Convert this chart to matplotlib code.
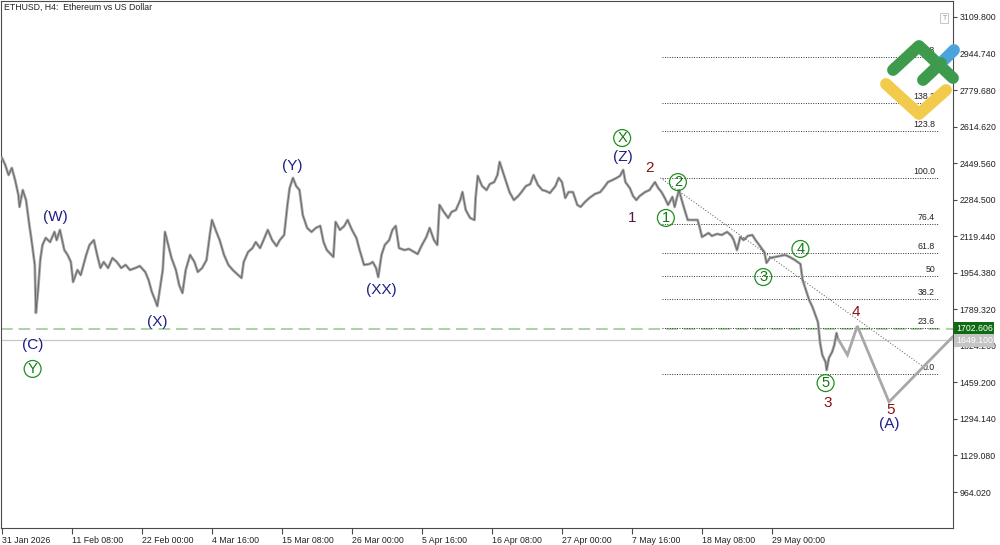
import matplotlib.pyplot as plt

# ETHUSD H4 - price path
# x = bar number counted from 31 Jan 2026 00:00 (6 bars a day), y = price
bar_idx = [0, 3, 6, 9, 12, 15, 16, 19, 22, 25, 27, 30, 31, 33, 35, 37, 40, 44, 48, 50,
           53, 57, 60, 63, 65, 69, 72, 77, 80, 84, 87, 90, 93, 97, 101, 105, 109, 113, 117, 122,
           126, 131, 134, 137, 140, 142, 144, 147, 149, 152, 155, 159, 162, 165, 168, 172, 176, 179, 183, 187,
           190, 192, 196, 199, 203, 207, 211, 216, 219, 221, 225, 229, 232, 236, 240, 243, 247, 251, 254, 258,
           261, 263, 266, 269, 272, 275, 279, 283, 287, 291, 294, 297, 303, 305, 309, 313, 316, 320, 324, 327,
           331, 336, 339, 342, 344, 347, 350, 354, 357, 360, 363, 368, 372, 377, 380, 384, 388, 391, 395, 398,
           400, 404, 408, 411, 415, 419, 421, 424, 428, 432, 433, 435, 439, 443, 446, 450, 453, 455, 458, 461,
           464, 468, 472, 475, 479, 483, 486, 490, 494, 497, 501, 506, 509, 512, 515, 518, 522, 526, 529, 533,
           537, 542, 547, 550, 554, 558, 562, 565, 568, 570, 574, 577, 580, 583, 588, 592, 597, 600, 603, 606,
           609, 613, 615, 617, 619, 622, 625, 627, 631, 636, 638, 640, 643, 646, 649, 654, 658, 663, 667, 669,
           672, 675, 678, 682, 686, 689, 693, 697, 699, 702, 707, 711, 716, 720, 725, 730, 732, 735, 738, 741,
           743, 746, 748, 750, 753, 754, 756, 759, 761, 763, 764]
price = [2473, 2441, 2396, 2428, 2373, 2306, 2252, 2328, 2283, 2170, 2102, 1990, 1773, 1877, 2012, 2080, 2112, 2093, 2139, 2102,
         2148, 2057, 2035, 2003, 1913, 1967, 1944, 2035, 2080, 2102, 2035, 1976, 2003, 1976, 2021, 2003, 1976, 1990, 1967, 1976,
         1985, 1958, 1922, 1868, 1831, 1804, 1868, 1967, 2139, 2080, 2021, 1967, 1899, 1863, 1967, 2035, 2003, 1958, 1976, 2012,
         2125, 2193, 2139, 2102, 2035, 1990, 1967, 1944, 1931, 2003, 2048, 2066, 2093, 2066, 2112, 2148, 2102, 2075, 2102, 2125,
         2261, 2337, 2383, 2346, 2328, 2215, 2157, 2139, 2157, 2166, 2093, 2057, 2026, 2184, 2148, 2166, 2193, 2148, 2112, 2057,
         1990, 1994, 2003, 1976, 1935, 2035, 2080, 2102, 2148, 2166, 2066, 2057, 2062, 2048, 2039, 2080, 2116, 2157, 2102, 2080,
         2261, 2229, 2202, 2229, 2238, 2283, 2319, 2238, 2202, 2193, 2292, 2392, 2346, 2328, 2355, 2364, 2396, 2455, 2410, 2364,
         2319, 2283, 2301, 2319, 2346, 2355, 2396, 2351, 2328, 2324, 2315, 2346, 2383, 2364, 2292, 2319, 2319, 2261, 2252, 2274,
         2292, 2310, 2319, 2337, 2364, 2373, 2383, 2392, 2419, 2364, 2337, 2301, 2283, 2301, 2319, 2328, 2364, 2337, 2319, 2292,
         2261, 2297, 2252, 2292, 2328, 2274, 2224, 2193, 2193, 2193, 2157, 2116, 2125, 2134, 2121, 2130, 2125, 2139, 2121, 2102,
         2057, 2116, 2102, 2121, 2125, 2102, 2075, 2048, 1999, 2021, 2026, 2030, 2035, 2026, 2012, 1994, 1922, 1877, 1831, 1800,
         1773, 1732, 1637, 1583, 1551, 1515, 1569, 1597, 1628, 1682, 1660]

# projected path and trend line
proj_idx = [765, 773, 782, 811, 869]
proj_price = [1651, 1583, 1714, 1371, 1664]
trend_idx = [602, 844]
trend_price = [2383, 1524]

# fibonacci grid
fib_lo, fib_hi = 1497, 2383
fib_from, fib_to = 603, 856
fib_ratios = [0.0, 23.6, 38.2, 50, 61.8, 76.4, 100.0, 123.8, 138.2, 161.8]
fib_labels = ['0.0', '23.6', '38.2', '50', '61.8', '76.4', '100.0', '123.8', '138.2', '161.8']

level_green = 1702.606
level_grey = 1649.100

ytick_vals = [964.020, 1129.080, 1294.140, 1459.200, 1624.260, 1789.320, 1954.380,
              2119.440, 2284.500, 2449.560, 2614.620, 2779.680, 2944.740, 3109.800]
xtick_idx = [0, 64, 128, 192, 256, 320, 384, 448, 512, 576, 640, 704]
xtick_labels = ['31 Jan 2026', '11 Feb 08:00', '22 Feb 00:00', '4 Mar 16:00', '15 Mar 08:00',
                '26 Mar 00:00', '5 Apr 16:00', '16 Apr 08:00', '27 Apr 00:00', '7 May 16:00',
                '18 May 08:00', '29 May 00:00']

# wave labels: text, bar, price, colour
wave_labels = [('(W)', 49, 2206, '#1f1f85'), ('(X)', 142, 1732, '#1f1f85'),
               ('(Y)', 265, 2437, '#1f1f85'), ('(XX)', 347, 1877, '#1f1f85'),
               ('(Z)', 568, 2477, '#1f1f85'), ('(C)', 28, 1628, '#1f1f85'),
               ('1', 576, 2202, '#5e1446'), ('2', 592, 2428, '#8b1010'),
               ('3', 755, 1366, '#8b1010'), ('4', 781, 1777, '#8b1010'),
               ('5', 812, 1335, '#8b1010'), ('(A)', 811, 1271, '#1f1f85')]
circle_labels = [('X', 567, 2563), ('Y', 28, 1520), ('1', 607, 2202), ('2', 618, 2364),
                 ('3', 696, 1935), ('4', 730, 2062), ('5', 753, 1456)]

fig = plt.figure(figsize=(10, 5.45), dpi=100)
ax = fig.add_axes([0.001, 0.0312, 0.952, 0.967])
ax.set_xlim(-0.9, 869.5)
ax.set_ylim(801.5, 3182.1)

# horizontal levels
ax.axhline(level_grey, color='#c8c8c8', lw=0.9, zorder=1)
ax.axhline(level_green, color='#a8d4a2', lw=1.4, ls=(0, (6, 3)), zorder=1)

# fib grid
for r, lab in zip(fib_ratios, fib_labels):
    lvl = fib_lo + (fib_hi - fib_lo) * r / 100
    ax.plot([fib_from, fib_to], [lvl, lvl], color='#303030', lw=0.7, ls=(0, (1, 1.5)), zorder=2)
    ax.text(fib_to - 3, lvl + 8, lab, fontsize=6.3, ha='right', va='bottom',
            family='Liberation Sans', color='#222222', zorder=3)

# price
ax.plot(bar_idx, price, color='#a9a9a9', lw=2.0, zorder=3)
ax.plot(bar_idx, price, color='#686868', lw=0.7, zorder=4)

# trend + projection
ax.plot(trend_idx, trend_price, color='#505050', lw=0.7, ls=(0, (1, 2)), zorder=3)
ax.plot(proj_idx, proj_price, color='#a8a8a8', lw=2.0, zorder=5, solid_joinstyle='miter')

for txt, bx, py, col in wave_labels:
    ax.text(bx, py, txt, color=col, fontsize=11, ha='center', va='center',
            family='Liberation Sans', zorder=6)
for txt, bx, py in circle_labels:
    ax.text(bx, py, txt, color='#127a12', fontsize=10.5, ha='center', va='center',
            family='Liberation Sans', zorder=6,
            bbox=dict(boxstyle='circle,pad=0.1', fc='none', ec='#1f8f1f', lw=0.9))

# axes styling
for s in ax.spines.values():
    s.set_color('#4a4a4a')
    s.set_linewidth(0.8)
ax.yaxis.tick_right()
ax.set_yticks(ytick_vals)
ax.set_yticklabels([f'{v:.3f}' for v in ytick_vals], family='Liberation Sans')
ax.tick_params(axis='y', direction='out', length=3, pad=1.5, labelsize=6.3,
               color='#4a4a4a', labelcolor='#222222')
ax.set_xticks(xtick_idx)
ax.set_xticklabels(xtick_labels, family='Liberation Sans', ha='left')
ax.tick_params(axis='x', direction='out', length=4, pad=1.5, labelsize=6.3,
               color='#4a4a4a', labelcolor='#222222')

# price tags on the right
ax.text(1.003, level_green, f'{level_green:.3f}', transform=ax.get_yaxis_transform(),
        fontsize=6.3, color='white', family='Liberation Sans', va='center', ha='left',
        bbox=dict(boxstyle='square,pad=0.2', fc='#0e6b12', ec='none'), zorder=7)
ax.text(1.003, level_grey, f'{level_grey:.3f}', transform=ax.get_yaxis_transform(),
        fontsize=6.3, color='white', family='Liberation Sans', va='center', ha='left',
        bbox=dict(boxstyle='square,pad=0.2', fc='#c4c4c4', ec='none'), zorder=7)

fig.text(0.004, 0.987, 'ETHUSD, H4:  Ethereum vs US Dollar', fontsize=6.3,
         family='Liberation Sans', va='center', color='#222222')
ax.text(0.9905, 0.968, 'T', transform=ax.transAxes, fontsize=5, color='#999999',
        ha='center', va='center', bbox=dict(boxstyle='square,pad=0.3', fc='white', ec='#bbbbbb', lw=0.6))

# logo (pixel overlay)
lg = fig.add_axes([0, 0, 1, 1], facecolor='none')
lg.set_xlim(0, 1000)
lg.set_ylim(545, 0)
lg.axis('off')
cap = dict(solid_capstyle='round', solid_joinstyle='round', lw=8.5)
lg.plot([886, 919, 946], [84, 114, 90], color='#f2cb4c', **cap)
lg.plot([893, 919, 953], [70, 46, 78], color='#3e9a4c', **cap)
lg.plot([940, 954], [64, 50], color='#4da3dd', **cap)
lg.plot([923, 941], [80, 63], color='#3e9a4c', **cap)

fig.savefig('out.png', dpi=100)
